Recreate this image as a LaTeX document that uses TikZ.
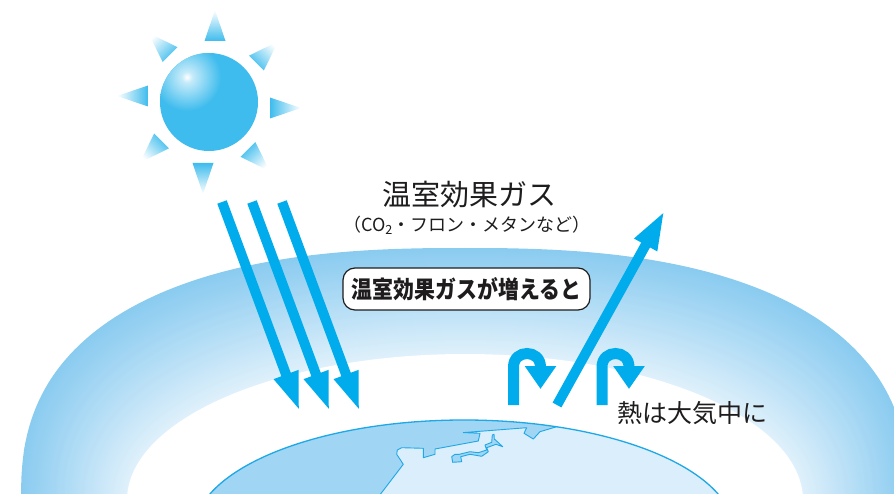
\documentclass[tikz,border=0pt]{standalone}
\usepackage{fontspec}
\usepackage{graphicx}
\usetikzlibrary{arrows.meta,calc}
\newfontfamily\jp{Noto Sans CJK JP}

\definecolor{bandout}{RGB}{138,203,240}
\definecolor{bandin}{RGB}{224,241,251}
\definecolor{sunblue}{RGB}{62,188,237}
\definecolor{arrowblue}{RGB}{0,172,236}
\definecolor{ocean}{RGB}{218,238,252}
\definecolor{land}{RGB}{160,213,243}
\definecolor{coast}{RGB}{30,168,230}
\definecolor{ink}{RGB}{30,28,28}

\pgfdeclareradialshading{sunspot}{\pgfpoint{0bp}{0bp}}{%
  color(0bp)=(white); color(4bp)=(white!70!sunblue);
  color(25bp)=(sunblue); color(50bp)=(sunblue)}

\begin{document}
\begin{tikzpicture}[x=1pt,y=-1pt,
  beam/.style={draw=arrowblue, line width=10pt,
    -{Triangle[length=40pt,width=23pt]}},
  turn/.style={draw=arrowblue, line width=11pt,
    -{Triangle[length=23pt,width=30pt]}},
  landpart/.style={fill=land, draw=coast, line width=0.9pt, line join=round},
  label/.style={text=ink, inner sep=0pt}]
\useasboundingbox (0,0) rectangle (894,494);
\clip (0,0) rectangle (894,494);

% atmosphere band: nested rounded shells, darker outside, paler inside
\foreach \s in {0,2,...,104} {
  \pgfmathsetmacro\bandA{444-\s}
  \pgfmathsetmacro\bandB{252-\s}
  \pgfmathsetmacro\bandE{2/(2.5-0.5*\s/106)}
  \pgfmathsetmacro\bandP{100*\s/106}
  \fill[bandin!\bandP!bandout] plot[domain=0:180, samples=121, variable=\t]
    ({465+\bandA*cos(\t)*pow(abs(cos(\t))+0.00001,\bandE-1)},
     {500-\bandB*pow(abs(sin(\t))+0.00001,\bandE)}) -- cycle;
}
% clear air below the band
\fill[white] plot[domain=0:180, samples=121, variable=\t]
  ({465+338*cos(\t)}, {500-146*abs(sin(\t))}) -- cycle;

% the globe
\coordinate (earth) at (464,532);
\fill[ocean] (earth) ellipse [x radius=270, y radius=112];
\begin{scope}
  \clip (earth) ellipse [x radius=270, y radius=112];
  \filldraw[landpart] (376,500) -- (403.3,464.3) -- (396.7,454.3) -- (397.3,450)
    -- (401.7,447.7) -- (423.3,448.3) -- (423.3,457.7) -- (435,454.3)
    -- (435,449) -- (478.3,441) -- (480,433.3) -- (463.3,432.6)
    -- (526.7,427.7) -- (524,433.3) -- (533.3,439) -- (540,431.7)
    -- (556.7,426.7) -- (600,380) -- (150,380) -- (150,500) -- cycle;
  \filldraw[landpart] (451.7,456.7) -- (452.7,462.3) -- (461.7,461.7)
    -- (460.7,456.7) -- (470,454.3) -- (481.7,456.3) -- (488.3,451.7)
    -- (486.7,447.7) -- (496,444.3) -- (502.7,446.7) -- (497.3,441.7)
    -- (494.3,439) -- (494,434.3) -- (492.3,435) -- (491.7,442.3)
    -- (485,445) -- (486.7,450) -- (478.3,452.7) -- (470,451.7)
    -- (459.3,454.3) -- (455,454.3) -- cycle;
\end{scope}
\draw[coast, line width=1.3pt] (earth) ellipse [x radius=270, y radius=112];

% incoming sunlight
\coordinate (in1s) at (222,202); \coordinate (in1e) at (300,412);
\coordinate (in2s) at (252,202); \coordinate (in2e) at (330,412);
\coordinate (in3s) at (282,202); \coordinate (in3e) at (360,412);
\draw[beam] (in1s) -- (in1e);
\draw[beam] (in2s) -- (in2e);
\draw[beam] (in3s) -- (in3e);

% heat escaping to space
\coordinate (outs) at (557,405); \coordinate (oute) at (665,210);
\draw[beam] (outs) -- (oute);

% heat turned back by the gases
\coordinate (ta0) at (513.5,405); \coordinate (ta1) at (513.5,367);
\coordinate (ta2) at (540.5,367); \coordinate (ta3) at (540.5,389);
\draw[turn] (ta0) -- (ta1) .. controls (513.5,349) and (540.5,349) .. (ta2) -- (ta3);
\coordinate (tb0) at (602,405); \coordinate (tb1) at (602,367);
\coordinate (tb2) at (629,367); \coordinate (tb3) at (629,389);
\draw[turn] (tb0) -- (tb1) .. controls (602,349) and (629,349) .. (tb2) -- (tb3);

% the sun
\coordinate (sun) at (209,102);
\foreach \p in {-90,-45,0,45,90,135,180,225} {
  \pgfmathsetmacro\rayang{-\p-90}
  \shade[top color=white, bottom color=sunblue, shading angle=\rayang]
    ($(sun)+(\p:61)+(\p+90:-4.5)$) -- ($(sun)+(\p:92)+(\p+90:6)$)
    -- ($(sun)+(\p:61)+(\p+90:16.5)$) -- cycle;
}
\fill[sunblue] (sun) circle [radius=49];
\begin{scope}
  \clip (sun) circle [radius=49];
  \shade[shading=sunspot] (187,77) circle [radius=34];
\end{scope}

% labels
\node[label, font=\jp\fontsize{29}{29}\selectfont] (gas) at (469,195) {温室効果ガス};
\node[label, font=\jp\fontsize{18}{18}\selectfont] (gaslist) at (467,225)
  {（CO\textsubscript{2}・フロン・メタンなど）};
\node[draw=ink, line width=1.2pt, fill=white, rounded corners=12pt,
  minimum width=247pt, minimum height=42pt, inner sep=0pt, text=ink] (more) at (466.5,289)
  {\scalebox{0.87}[1]{\jp\bfseries\fontsize{24}{24}\selectfont 温室効果ガスが増えると}};
\node[label, anchor=west, font=\jp\fontsize{25}{25}\selectfont] (heat) at (617,413) {熱は大気中に};
\end{tikzpicture}
\end{document}
